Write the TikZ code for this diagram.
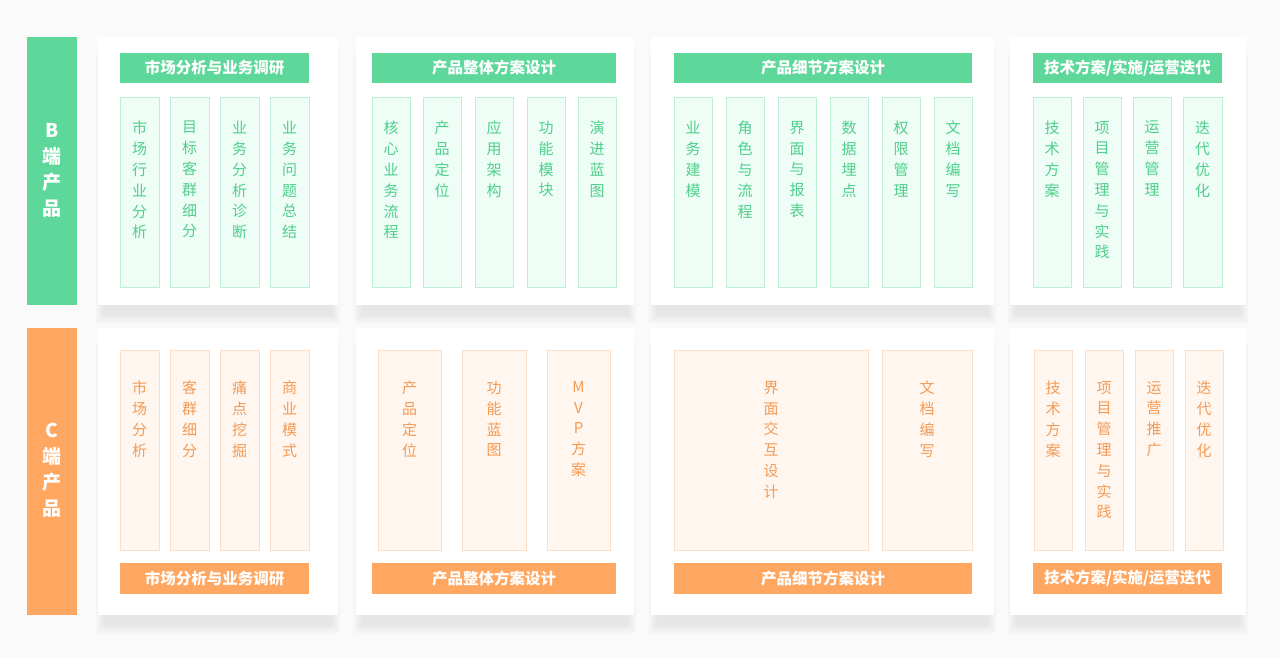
\documentclass[tikz,border=0pt]{standalone}
\usepackage{fontspec}
\setmainfont{Noto Sans CJK SC}
\definecolor{bg}{HTML}{FAFAFA}
\definecolor{gmain}{HTML}{5DD79A}
\definecolor{gfill}{HTML}{EEFDF5}
\definecolor{gline}{HTML}{BDEFD5}
\definecolor{gtext}{HTML}{4FCF8D}
\definecolor{omain}{HTML}{FFA660}
\definecolor{ofill}{HTML}{FFF6F0}
\definecolor{oline}{HTML}{FDDFC9}
\definecolor{otext}{HTML}{F39B55}
\newcommand\boxat[6]{%
  \node[#1, inner sep=0pt, outer sep=0pt, minimum width={(#5)-(#3)}, minimum height={(#6)-(#4)}] (#2) at ({((#3)+(#5))/2},{((#4)+(#6))/2}) {};}
\newcommand\shadowat[4]{%
  \foreach \i in {0,...,9}{\fill[black, opacity=0.0065] ({#1+6-\i},{#2+24-\i}) rectangle ({#3-6+\i},{#4+10+\i});}}
\tikzset{
  panel/.style={fill=white, draw=none},
  gbar/.style={fill=gmain, draw=none},
  obar/.style={fill=omain, draw=none},
  gcol/.style={fill=gfill, draw=gline, line width=0.8pt},
  ocol/.style={fill=ofill, draw=oline, line width=0.8pt},
  barlbl/.style={text=white, font=\bfseries\fontsize{19}{26}\selectfont, align=center, inner sep=0pt},
  headlbl/.style={text=white, font=\bfseries\fontsize{15.5}{18}\selectfont, inner sep=0pt},
  gtxt/.style={text=gtext, font=\fontsize{15}{20.8}\selectfont, align=center, inner sep=0pt, anchor=north},
  otxt/.style={text=otext, font=\fontsize{15}{20.8}\selectfont, align=center, inner sep=0pt, anchor=north},
}
\begin{document}
\begin{tikzpicture}[x=1pt,y=-1pt]
\fill[bg] (0,0) rectangle (1280,657);
\useasboundingbox (0,0) rectangle (1280,657);
% left bars
\boxat{gbar}{bbar}{27}{37}{77}{305}
\boxat{obar}{cbar}{27}{328}{77}{615}
\node[barlbl, anchor=north] at ([yshift=-86pt]bbar.north) {B\\端\\产\\品};
\node[barlbl, anchor=north] at ([yshift=-95pt]cbar.north) {C\\端\\产\\品};
% shadows
\shadowat{98}{37}{338}{305}
\shadowat{356}{37}{634}{305}
\shadowat{651}{37}{994}{305}
\shadowat{1010}{37}{1246}{305}
\shadowat{98}{328}{338}{615}
\shadowat{356}{328}{634}{615}
\shadowat{651}{328}{994}{615}
\shadowat{1010}{328}{1246}{615}
% panels
\boxat{panel}{pb1}{98}{37}{338}{305}
\boxat{panel}{pb2}{356}{37}{634}{305}
\boxat{panel}{pb3}{651}{37}{994}{305}
\boxat{panel}{pb4}{1010}{37}{1246}{305}
\boxat{panel}{pc1}{98}{328}{338}{615}
\boxat{panel}{pc2}{356}{328}{634}{615}
\boxat{panel}{pc3}{651}{328}{994}{615}
\boxat{panel}{pc4}{1010}{328}{1246}{615}
% B headers
\boxat{gbar}{hb1}{120}{53}{309}{83}
\boxat{gbar}{hb2}{372}{53}{616}{83}
\boxat{gbar}{hb3}{674}{53}{972}{83}
\boxat{gbar}{hb4}{1033}{53}{1222}{83}
\node[headlbl] at (hb1) {市场分析与业务调研};
\node[headlbl] at (hb2) {产品整体方案设计};
\node[headlbl] at (hb3) {产品细节方案设计};
\node[headlbl] at (hb4) {技术方案/实施/运营迭代};
% B columns
\boxat{gcol}{b11}{120}{97}{159}{287}
\boxat{gcol}{b12}{170}{97}{209}{287}
\boxat{gcol}{b13}{220}{97}{259}{287}
\boxat{gcol}{b14}{270}{97}{309}{287}
\boxat{gcol}{b21}{372}{97}{410}{287}
\boxat{gcol}{b22}{423}{97}{461}{287}
\boxat{gcol}{b23}{475}{97}{513}{287}
\boxat{gcol}{b24}{527}{97}{565}{287}
\boxat{gcol}{b25}{578}{97}{616}{287}
\boxat{gcol}{b31}{674}{97}{712}{287}
\boxat{gcol}{b32}{726}{97}{764}{287}
\boxat{gcol}{b33}{778}{97}{816}{287}
\boxat{gcol}{b34}{830}{97}{868}{287}
\boxat{gcol}{b35}{882}{97}{920}{287}
\boxat{gcol}{b36}{934}{97}{972}{287}
\boxat{gcol}{b41}{1033}{97}{1071}{287}
\boxat{gcol}{b42}{1083}{97}{1121}{287}
\boxat{gcol}{b43}{1133}{97}{1171}{287}
\boxat{gcol}{b44}{1183}{97}{1222}{287}
\def\gy{-24pt}
\node[gtxt] at ([yshift=\gy]b11.north) {市\\场\\行\\业\\分\\析};
\node[gtxt] at ([yshift=\gy]b12.north) {目\\标\\客\\群\\细\\分};
\node[gtxt] at ([yshift=\gy]b13.north) {业\\务\\分\\析\\诊\\断};
\node[gtxt] at ([yshift=\gy]b14.north) {业\\务\\问\\题\\总\\结};
\node[gtxt] at ([yshift=\gy]b21.north) {核\\心\\业\\务\\流\\程};
\node[gtxt] at ([yshift=\gy]b22.north) {产\\品\\定\\位};
\node[gtxt] at ([yshift=\gy]b23.north) {应\\用\\架\\构};
\node[gtxt] at ([yshift=\gy]b24.north) {功\\能\\模\\块};
\node[gtxt] at ([yshift=\gy]b25.north) {演\\进\\蓝\\图};
\node[gtxt] at ([yshift=\gy]b31.north) {业\\务\\建\\模};
\node[gtxt] at ([yshift=\gy]b32.north) {角\\色\\与\\流\\程};
\node[gtxt] at ([yshift=\gy]b33.north) {界\\面\\与\\报\\表};
\node[gtxt] at ([yshift=\gy]b34.north) {数\\据\\埋\\点};
\node[gtxt] at ([yshift=\gy]b35.north) {权\\限\\管\\理};
\node[gtxt] at ([yshift=\gy]b36.north) {文\\档\\编\\写};
\node[gtxt] at ([yshift=\gy]b41.north) {技\\术\\方\\案};
\node[gtxt] at ([yshift=\gy]b42.north) {项\\目\\管\\理\\与\\实\\践};
\node[gtxt] at ([yshift=\gy]b43.north) {运\\营\\管\\理};
\node[gtxt] at ([yshift=\gy]b44.north) {迭\\代\\优\\化};
% C footers
\boxat{obar}{fc1}{120}{563}{309}{594}
\boxat{obar}{fc2}{372}{563}{616}{594}
\boxat{obar}{fc3}{674}{563}{972}{594}
\boxat{obar}{fc4}{1033}{563}{1222}{594}
\node[headlbl] at (fc1) {市场分析与业务调研};
\node[headlbl] at (fc2) {产品整体方案设计};
\node[headlbl] at (fc3) {产品细节方案设计};
\node[headlbl] at (fc4) {技术方案/实施/运营迭代};
% C columns
\boxat{ocol}{c11}{120}{350}{159}{550}
\boxat{ocol}{c12}{170}{350}{209}{550}
\boxat{ocol}{c13}{220}{350}{259}{550}
\boxat{ocol}{c14}{270}{350}{309}{550}
\boxat{ocol}{c21}{378}{350}{441}{550}
\boxat{ocol}{c22}{462}{350}{526}{550}
\boxat{ocol}{c23}{547}{350}{610}{550}
\boxat{ocol}{c31}{674}{350}{868}{550}
\boxat{ocol}{c32}{882}{350}{972}{550}
\boxat{ocol}{c41}{1034}{350}{1072}{550}
\boxat{ocol}{c42}{1085}{350}{1123}{550}
\boxat{ocol}{c43}{1135}{350}{1173}{550}
\boxat{ocol}{c44}{1185}{350}{1223}{550}
\def\oy{-31pt}
\node[otxt] at ([yshift=\oy]c11.north) {市\\场\\分\\析};
\node[otxt] at ([yshift=\oy]c12.north) {客\\群\\细\\分};
\node[otxt] at ([yshift=\oy]c13.north) {痛\\点\\挖\\掘};
\node[otxt] at ([yshift=\oy]c14.north) {商\\业\\模\\式};
\node[otxt] at ([yshift=\oy]c21.north) {产\\品\\定\\位};
\node[otxt] at ([yshift=\oy]c22.north) {功\\能\\蓝\\图};
\node[otxt] at ([yshift=\oy]c23.north) {M\\V\\P\\方\\案};
\node[otxt] at ([yshift=\oy]c31.north) {界\\面\\交\\互\\设\\计};
\node[otxt] at ([yshift=\oy]c32.north) {文\\档\\编\\写};
\node[otxt] at ([yshift=\oy]c41.north) {技\\术\\方\\案};
\node[otxt] at ([yshift=\oy]c42.north) {项\\目\\管\\理\\与\\实\\践};
\node[otxt] at ([yshift=\oy]c43.north) {运\\营\\推\\广};
\node[otxt] at ([yshift=\oy]c44.north) {迭\\代\\优\\化};
\end{tikzpicture}
\end{document}
